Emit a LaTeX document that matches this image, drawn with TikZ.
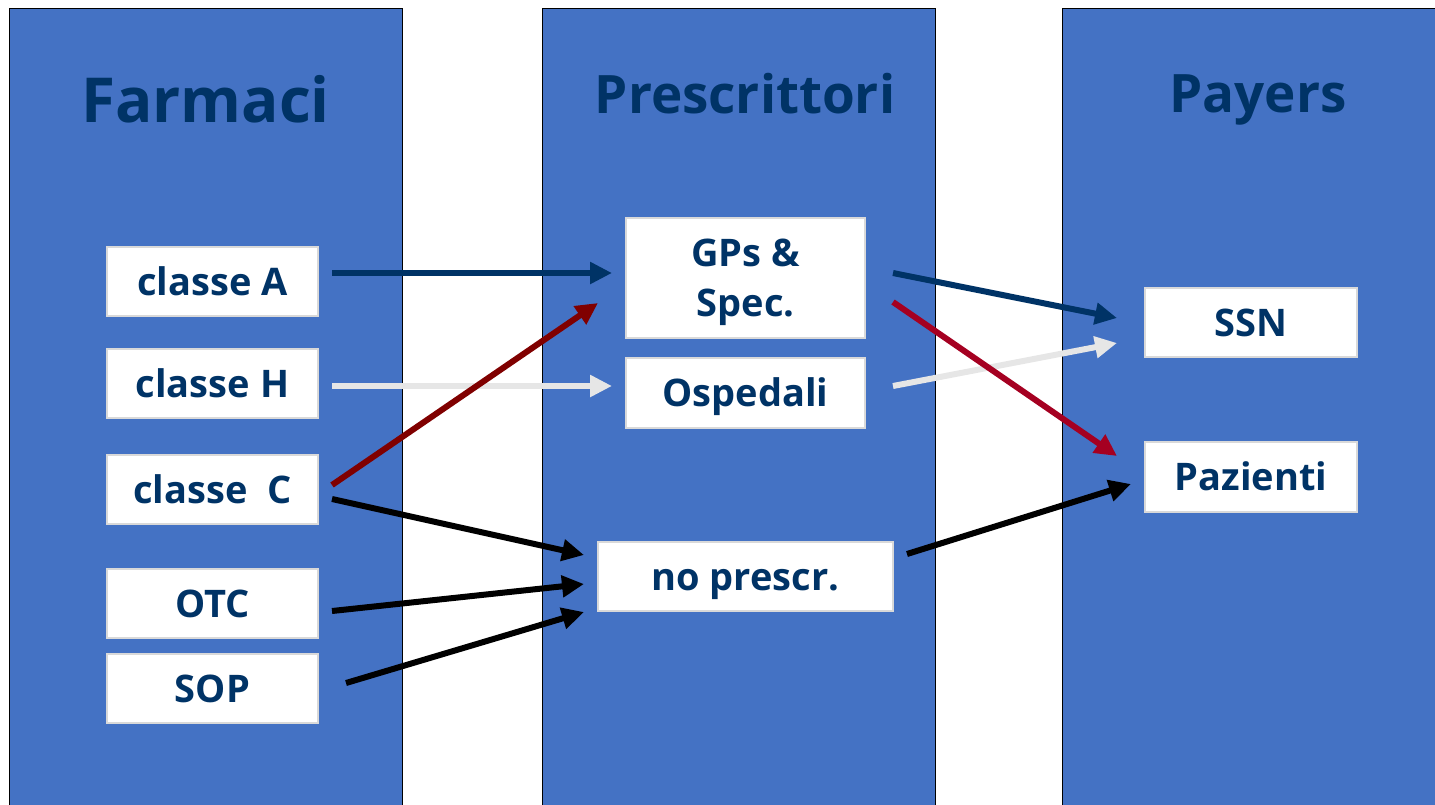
\documentclass[tikz,border=0pt]{standalone}
\usepackage{fontspec}
\setmainfont{Open Sans}
\usetikzlibrary{arrows.meta}
\definecolor{colfill}{HTML}{4472C4}
\definecolor{txtblue}{HTML}{003366}
\definecolor{boxline}{HTML}{D9D9D9}
\definecolor{arrblue}{HTML}{003366}
\definecolor{arrgray}{HTML}{E6E6E6}
\definecolor{arrdred}{HTML}{800000}
\definecolor{arrred}{HTML}{A50021}
\tikzset{
  column/.style={fill=colfill, draw=black, line width=1pt},
  coltitle/.style={text=txtblue, anchor=base, inner sep=0pt},
  itembox/.style={fill=white, draw=boxline, line width=1.2pt, text=txtblue,
     font=\fontsize{38}{50}\selectfont\bfseries, align=center, inner sep=0pt,
     text height=27pt, text depth=0pt},
  flow/.style={line width=6pt, -{Triangle[length=22pt,width=21pt]}},
}
\begin{document}
\begin{tikzpicture}[x=1pt,y=-1pt]
\useasboundingbox (0,0) rectangle (1435,804);
\begin{scope}
\clip (0,0) rectangle (1435,804);
\draw[column] (9,8) rectangle (402,820);
\draw[column] (542,8) rectangle (935,820);
\draw[column] (1062,8) rectangle (1445,820);
\end{scope}
\node[coltitle, font=\fontsize{62}{66}\selectfont\bfseries] (t1) at (205.5,122) {Farmaci};
\node[coltitle, font=\fontsize{53}{58}\selectfont\bfseries] (t2) at (745,113) {Prescrittori};
\node[coltitle, font=\fontsize{53}{58}\selectfont\bfseries] (t3) at (1258,112) {Payers};

\node[itembox, minimum width=211pt, minimum height=69pt] (A) at (212.5,281.5) {classe A};
\node[itembox, minimum width=211pt, minimum height=69pt] (H) at (212.5,383.5) {classe H};
\node[itembox, minimum width=211pt, minimum height=69pt] (C) at (212.5,489.5) {classe\ \ C};
\node[itembox, minimum width=211pt, minimum height=69pt] (OTC) at (212.5,603.5) {OTC};
\node[itembox, minimum width=211pt, minimum height=69pt] (SOP) at (212.5,688.5) {SOP};
\node[itembox, minimum width=239pt, minimum height=120pt, text height={}] (GP) at (745.5,278) {GPs \&\\Spec.};
\node[itembox, minimum width=239pt, minimum height=70pt] (OSP) at (745.5,393) {Ospedali};
\node[itembox, minimum width=295pt, minimum height=69pt] (NOP) at (745.5,576.5) {no prescr.};
\node[itembox, minimum width=212pt, minimum height=69pt] (SSN) at (1251,322.5) {SSN};
\node[itembox, minimum width=212pt, minimum height=70pt] (PAZ) at (1251,477) {Pazienti};

% arrow end points
\coordinate (a1) at (332,273); \coordinate (a2) at (612,273);
\coordinate (h1) at (332,386); \coordinate (h2) at (612,386);
\coordinate (cr1) at (332,485); \coordinate (cr2) at (598,303);
\coordinate (cb1) at (332,499); \coordinate (cb2) at (584,555);
\coordinate (o1) at (332,611); \coordinate (o2) at (584,584);
\coordinate (s1) at (346,683); \coordinate (s2) at (584,612);
\coordinate (gb1) at (893,273); \coordinate (gb2) at (1117,318);
\coordinate (gr1) at (893,302); \coordinate (gr2) at (1117,456);
\coordinate (op1) at (893,386); \coordinate (op2) at (1117,343);
\coordinate (np1) at (907,554); \coordinate (np2) at (1131,484);

\draw[flow, draw=arrblue, fill=arrblue] (a1) -- (a2);
\draw[flow, draw=arrgray, fill=arrgray] (h1) -- (h2);
\draw[flow, draw=arrdred, fill=arrdred] (cr1) -- (cr2);
\draw[flow, draw=black, fill=black] (cb1) -- (cb2);
\draw[flow, draw=black, fill=black] (o1) -- (o2);
\draw[flow, draw=black, fill=black] (s1) -- (s2);
\draw[flow, draw=arrblue, fill=arrblue] (gb1) -- (gb2);
\draw[flow, draw=arrgray, fill=arrgray] (op1) -- (op2);
\draw[flow, draw=arrred, fill=arrred] (gr1) -- (gr2);
\draw[flow, draw=black, fill=black] (np1) -- (np2);
\end{tikzpicture}
\end{document}
